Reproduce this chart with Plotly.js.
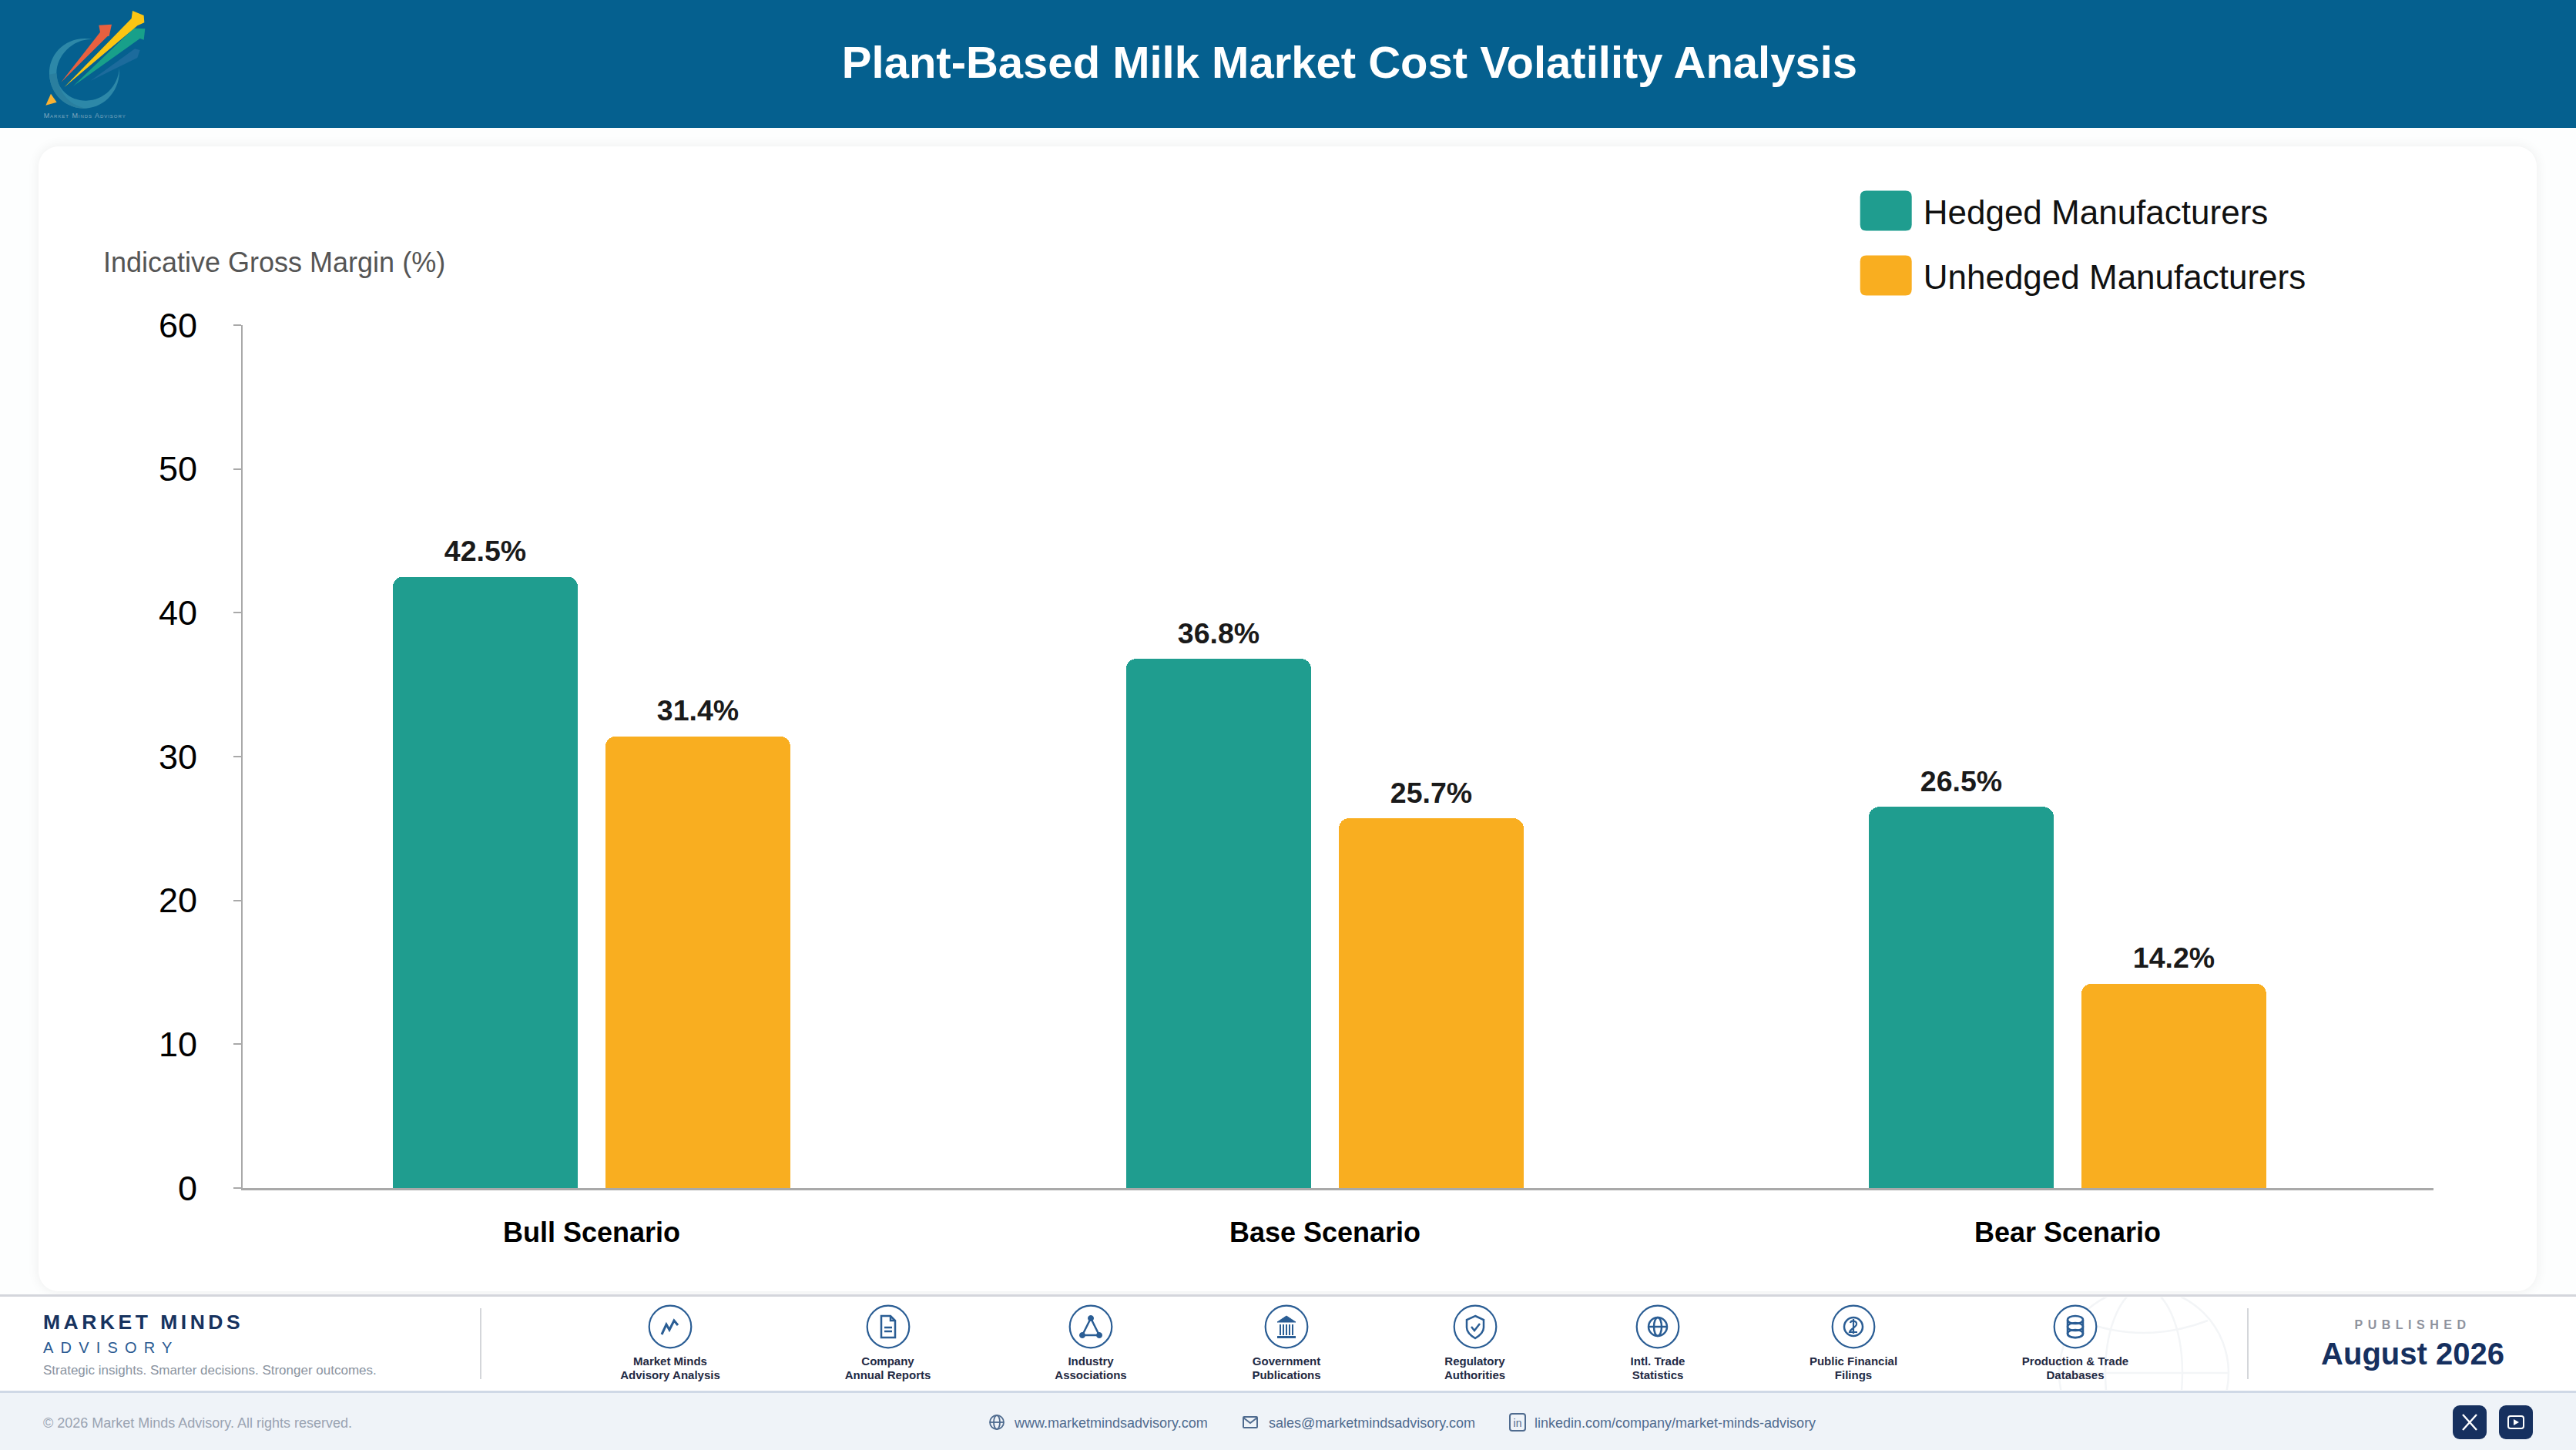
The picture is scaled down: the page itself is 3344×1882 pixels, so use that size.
<!DOCTYPE html>
<html>
<head>
<meta charset="utf-8">
<title>Plant-Based Milk Market Cost Volatility Analysis</title>
<script src="https://cdn.plot.ly/plotly-3.0.1.min.js"></script>
<style>
html,body{margin:0;padding:0;width:3344px;height:1882px;overflow:hidden;background:#fdfefe;font-family:"Liberation Sans",Arial,sans-serif;}
.abs{position:absolute;white-space:nowrap;}
#header{left:0;top:0;width:3344px;height:166px;background:#05608f;}
#card{left:50px;top:190px;width:3243px;height:1486px;background:#fff;border-radius:26px;box-shadow:0 0 16px rgba(0,0,0,.07);}
#footerTop{left:0;top:1680px;width:3344px;height:126px;background:#fff;border-top:3px solid #d4d6dc;box-sizing:border-box;}
#footerBottom{left:0;top:1805px;width:3344px;height:77px;background:#eff3f8;border-top:3px solid #cfd8e6;box-sizing:border-box;}
#plot{position:absolute;left:0;top:0;width:3344px;height:1882px;}
svg.abs{overflow:visible;}
</style>
</head>
<body>
<div class="abs" id="header"></div>
<div class="abs" id="card"></div>
<div class="abs" id="footerTop"></div>
<div class="abs" id="footerBottom"></div>
<div id="plot"></div>
<div id="chrome"></div>
<script>
// ---- chart data ----
const categories = ["Bull Scenario", "Base Scenario", "Bear Scenario"];
const hedged = [42.5, 36.8, 26.5];
const unhedged = [31.4, 25.7, 14.2];
const seriesNames = ["Hedged Manufacturers", "Unhedged Manufacturers"];
const yTicks = [0, 10, 20, 30, 40, 50, 60];
const yAxisLabel = "Indicative Gross Margin (%)";

// ---- page texts ----
const pageTitle = "Plant-Based Milk Market Cost Volatility Analysis";
const sourceLabels = [
  ["Market Minds", "Advisory Analysis"], ["Company", "Annual Reports"], ["Industry", "Associations"],
  ["Government", "Publications"], ["Regulatory", "Authorities"], ["Intl. Trade", "Statistics"],
  ["Public Financial", "Filings"], ["Production & Trade", "Databases"]
];
const contactLinks = ["www.marketmindsadvisory.com", "sales@marketmindsadvisory.com", "linkedin.com/company/market-minds-advisory"];

// ---- styles / layout constants ----
const TEAL = "#1f9d8f", AMBER = "#f9ae20", AXIS = "#a9a9a9", NAVY = "#16305f", ICON = "#2a5d94";
const W = 3344, H = 1882, L = 315, R = 3159, T = 421.7, B = 1541.7;
const barW = 0.2505, off1 = -0.2693, off2 = 0.0188, nudge = [0, -0.0063, 0];
const labelLift = 9.5;

function barTrace(name, vals, color, off) {
  return {
    type: "bar", name: name, x: categories, y: vals, legendgroup: name,
    width: barW, offset: nudge.map(n => off + n),
    marker: {color: color, line: {width: 0}},
    text: vals.map(v => v.toFixed(1) + "%"),
    textposition: "outside", cliponaxis: false, constraintext: "none",
    textfont: {family: "Liberation Sans", size: 37.5, color: "#1a1a1a", weight: 700},
    hoverinfo: "x+y"
  };
}
const traces = [barTrace(seriesNames[0], hedged, TEAL, off1), barTrace(seriesNames[1], unhedged, AMBER, off2)];

const layout = {
  width: W, height: H, autosize: false,
  margin: {l: L, r: W - R, t: T, b: H - B, pad: 0, autoexpand: false},
  paper_bgcolor: "rgba(0,0,0,0)", plot_bgcolor: "rgba(0,0,0,0)",
  font: {family: "Liberation Sans", color: "#000"},
  barmode: "overlay", barcornerradius: 13,
  bargap: 0,
  xaxis: {
    type: "category", range: [-0.4728, 2.4958], fixedrange: true,
    tickmode: "array", tickvals: categories.map((c, i) => i + nudge[i]), ticktext: categories,
    ticks: "", ticklabelstandoff: 24, showgrid: false, zeroline: false,
    showline: true, linecolor: AXIS, linewidth: 3,
    tickfont: {family: "Liberation Sans", size: 36, color: "#000", weight: 700}
  },
  yaxis: {
    range: [0, 60], tickmode: "array", tickvals: yTicks, fixedrange: true,
    ticks: "outside", ticklen: 10, tickwidth: 2, tickcolor: AXIS, ticklabelstandoff: 38,
    showline: true, linecolor: AXIS, linewidth: 2, showgrid: false, zeroline: false,
    tickfont: {family: "Liberation Sans", size: 45, color: "#000"}
  },
  showlegend: true,
  legend: {
    x: (2399.7 - L) / (R - L), xanchor: "left", y: 1 + (T - 238) / (B - T), yanchor: "top",
    itemwidth: 87, tracegroupgap: 24, itemclick: false, itemdoubleclick: false,
    bgcolor: "rgba(0,0,0,0)", borderwidth: 0,
    font: {family: "Liberation Sans", size: 44, color: "#111"}
  },
  annotations: [{
    text: yAxisLabel, xref: "paper", yref: "paper", x: 0, y: 1, xanchor: "left", yanchor: "middle",
    xshift: 132 - L, yshift: T - 340.5, showarrow: false,
    font: {family: "Liberation Sans", size: 36, color: "#555"}
  }]
};

// ---- header and footer furniture ----
const chrome = document.getElementById("chrome");
function addText(str, x, cy, size, color, opts) {
  opts = opts || {};
  const d = document.createElement("div");
  d.className = "abs";
  d.textContent = str;
  let s = `top:${cy - size}px;height:${size * 2}px;line-height:${size * 2}px;font-size:${size}px;color:${color};`;
  if (opts.bold) s += "font-weight:700;";
  if (opts.ls) s += `letter-spacing:${opts.ls}px;`;
  if (opts.center) s += `left:${x - 1000}px;width:2000px;text-align:center;`;
  else s += `left:${x}px;`;
  d.style.cssText = s;
  chrome.appendChild(d);
}
function addSvg(x, y, w, h, inner, vb, clip) {
  const holder = document.createElement("div");
  holder.innerHTML = `<svg class="abs" style="left:${x}px;top:${y}px;${clip ? "overflow:hidden;" : ""}" width="${w}" height="${h}" viewBox="${vb || `0 0 ${w} ${h}`}" xmlns="http://www.w3.org/2000/svg">${inner}</svg>`;
  chrome.appendChild(holder.firstChild);
}

addText(pageTitle, 1752, 81, 58, "#fff", {bold: true, center: true});

// logo (drawn in 3x coordinates)
addSvg(40, 0, 170, 166, `
  <path d="M240,153 C140,135 68,210 72,290 C76,370 140,425 215,422 C290,418 350,350 345,265 C340,335 285,392 215,392 C150,392 100,345 100,285 C100,215 165,150 240,153Z" fill="#2d88a8"/>
  <path d="M72,290 C76,370 140,425 215,422 C180,415 110,390 100,285Z" fill="#2a7f9f"/>
  <path d="M58,410 L78,365 L101,398Z" fill="#f9b233"/>
  <path d="M232,315 L405,190 L425,195 L415,225Z" fill="#1c6b9c"/>
  <path d="M118,320 L270,125 L265,98 L315,95 L305,140 L298,142Z" fill="#e8603f"/>
  <path d="M165,335 L385,125 L400,110 L445,112 L440,155 L425,150Z" fill="#18a08a"/>
  <path d="M130,340 L392,72 L396,42 L440,60 L442,88 L415,100Z" fill="#fbc512"/>
  <text x="50" y="460" font-size="27" textLength="318" style="font-variant:small-caps" fill="#7fa8bf" font-family="Liberation Sans">Market Minds Advisory</text>
`, "0 0 510 498");

// watermark globe in the footer
addSvg(2660, 1684, 260, 120, `
  <g fill="none" stroke="#f3f5f7" stroke-width="2.5">
    <circle cx="123" cy="98" r="110"/>
    <ellipse cx="123" cy="98" rx="50" ry="110"/>
    <path d="M13,98 H233"/>
    <path d="M40,30 Q123,62 206,30"/>
  </g>`, "0 0 260 120", true);

// separators
addSvg(623, 1698, 3, 92, `<rect width="2" height="92" fill="#d4d6da"/>`);
addSvg(2917, 1698, 3, 92, `<rect width="2" height="92" fill="#d4d6da"/>`);

addText("MARKET MINDS", 56, 1716, 26.5, "#17335f", {bold: true, ls: 4.5});
addText("ADVISORY", 56, 1749, 20, "#2a5a92", {ls: 9.2});
addText("Strategic insights. Smarter decisions. Stronger outcomes.", 56, 1779, 17, "#8a93a0");

// source icons
const iconX = [870, 1152.5, 1416, 1670, 1914.5, 2152, 2406, 2694];
const glyphs = [
  `<path d="M-11,10 L-5,-3 L-1,4 L5,-8 L10,-2" fill="none" stroke-width="3"/>`,
  `<path d="M-9,-14 H3 L9,-8 V14 H-9Z M3,-14 V-8 H9 M-5,1 H5 M-5,6 H5" fill="none" stroke-width="2.5"/>`,
  `<path d="M0,-11 L-11,11 H11Z" fill="none" stroke-width="2.5"/><circle cx="0" cy="-11" r="3.5" fill="${ICON}"/><circle cx="-11" cy="11" r="3.5" fill="${ICON}"/><circle cx="11" cy="11" r="3.5" fill="${ICON}"/>`,
  `<path d="M-12,-6 L0,-14 L12,-6Z" fill="${ICON}"/><path d="M-8,-3 V11 M-4,-3 V11 M0,-3 V11 M4,-3 V11 M8,-3 V11" fill="none" stroke-width="2"/><rect x="-12" y="12" width="24" height="3" fill="${ICON}" stroke="none"/>`,
  `<path d="M0,-14 L11,-9 V1 C11,8 5,12 0,15 C-5,12 -11,8 -11,1 V-9Z" fill="none" stroke-width="2.5"/><path d="M-5,0 L-1,5 L6,-4" fill="none" stroke-width="2.5"/>`,
  `<circle r="12" fill="none" stroke-width="2.5"/><ellipse rx="5" ry="12" fill="none" stroke-width="2.5"/><path d="M-12,0 H12" fill="none" stroke-width="2.5"/>`,
  `<circle r="12" fill="none" stroke-width="2.5"/><path d="M-4,-5 C-3,-9 5,-8 4,-3 C3,1 -4,3 -5,7 H5 M0,-10 V9" fill="none" stroke-width="2.2"/>`,
  `<path d="M-10,-9 V9 C-10,16 10,16 10,9 V-9" fill="none" stroke-width="2.5"/><ellipse cy="-9" rx="10" ry="5" fill="none" stroke-width="2.5"/><ellipse cy="0" rx="10" ry="5" fill="none" stroke-width="2.5"/><ellipse cy="9" rx="10" ry="5" fill="none" stroke-width="2.5"/>`
];
sourceLabels.forEach((lab, i) => {
  addSvg(iconX[i] - 30, 1692, 60, 60, `<g transform="translate(30,30)" stroke="${ICON}"><circle r="27.3" fill="#fff" stroke-width="2.2"/>${glyphs[i]}</g>`);
  addText(lab[0], iconX[i], 1767, 15, "#1f2a44", {bold: true, center: true});
  addText(lab[1], iconX[i], 1785, 15, "#1f2a44", {bold: true, center: true});
});

// published
addText("PUBLISHED", 3132, 1720, 16, "#8f939e", {bold: true, ls: 6.5, center: true});
addText("August 2026", 3132, 1757, 40, NAVY, {bold: true, center: true});

// bottom bar
addText("\u00a9 2026 Market Minds Advisory. All rights reserved.", 56, 1847, 18, "#9aa3b2");
const LINKC = "#4f6b8f";
addSvg(1282, 1834, 24, 24, `<g transform="translate(12,12)" fill="none" stroke="${LINKC}" stroke-width="1.8"><circle r="9"/><ellipse rx="4" ry="9"/><path d="M-9,0 H9"/></g>`);
addText(contactLinks[0], 1317, 1847, 18, LINKC);
addSvg(1611, 1834, 24, 24, `<g fill="none" stroke="${LINKC}" stroke-width="2"><rect x="3" y="5" width="18" height="14" rx="1"/><path d="M3,6 L12,13 L21,6"/></g>`);
addText(contactLinks[1], 1647, 1847, 18, LINKC);
addSvg(1958, 1834, 24, 24, `<rect x="2" y="1" width="20" height="22" rx="3" fill="none" stroke="${LINKC}" stroke-width="2"/><text x="12" y="18" text-anchor="middle" font-size="14" fill="${LINKC}" font-family="Liberation Sans">in</text>`);
addText(contactLinks[2], 1992, 1847, 18, LINKC);

addSvg(3184, 1824, 44, 44, `<rect width="44" height="44" rx="9" fill="${NAVY}"/><path d="M13,12 L31,32 M31,12 L13,32" stroke="#fff" stroke-width="2.4"/>`);
addSvg(3244, 1824, 44, 44, `<rect width="44" height="44" rx="9" fill="${NAVY}"/><rect x="12" y="14" width="20" height="16" rx="3" fill="none" stroke="#fff" stroke-width="2"/><path d="M19,18 L26,22 L19,26Z" fill="#fff"/>`);

// ---- plot ----
function finish() {
  const gd = document.getElementById("plot");
  gd.querySelectorAll(".legendpoints path").forEach(p => {
    const w = 33.5, h = 26, r = 8;
    p.setAttribute("d", `M${-w + r},${-h} H${w - r} Q${w},${-h} ${w},${-h + r} V${h - r} Q${w},${h} ${w - r},${h} H${-w + r} Q${-w},${h} ${-w},${h - r} V${-h + r} Q${-w},${-h} ${-w + r},${-h}Z`);
  });
  gd.querySelectorAll(".barlayer text").forEach(t => {
    if (t.dataset.lifted) return;
    t.dataset.lifted = "1";
    t.setAttribute("transform", `translate(0,${-labelLift}) ` + (t.getAttribute("transform") || ""));
  });
}
Plotly.newPlot("plot", traces, layout, {displayModeBar: false, staticPlot: true}).then(finish);
</script>
</body>
</html>
